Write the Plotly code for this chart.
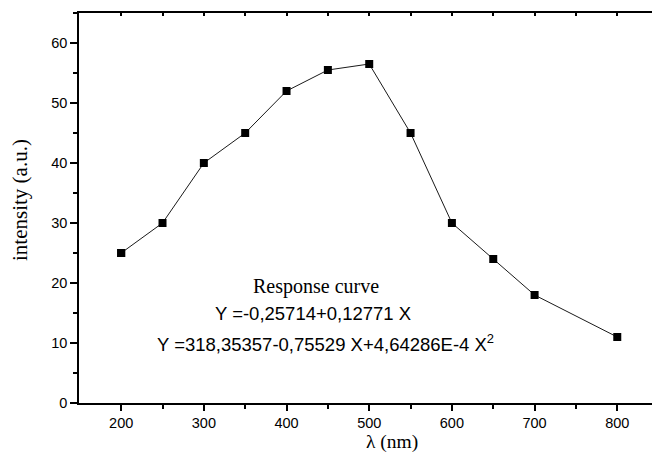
import plotly.graph_objects as go

wavelength = [200, 250, 300, 350, 400, 450, 500, 550, 600, 650, 700, 800]
intensity = [25, 30, 40, 45, 52, 55.5, 56.5, 45, 30, 24, 18, 11]

x_title = "λ (nm)"
y_title = "intensity (a.u.)"
note_lines = [
    "Response curve",
    "Y =-0,25714+0,12771 X",
    "Y =318,35357-0,75529 X+4,64286E-4 X<sup>2</sup>",
]

W, H = 652, 452
L, R, T, B = 79, 0, 13, 49
pw, ph = W - L - R, H - T - B

def px(x):
    return (x - L) / pw

def py(y):
    return (H - B - y) / ph

fig = go.Figure()
fig.add_trace(go.Scatter(
    x=wavelength, y=intensity, mode="lines+markers",
    line=dict(color="#1a1a1a", width=1),
    marker=dict(symbol="square", size=8, color="black"),
    showlegend=False,
))

axis_common = dict(
    showgrid=False, zeroline=False, showline=True, linecolor="black", linewidth=1.5,
    tickfont=dict(family="Liberation Sans, Arial", size=14.5, color="black"),
    tickcolor="black",
)

fig.update_layout(
    width=W, height=H,
    margin=dict(l=L, r=R, t=T, b=B),
    paper_bgcolor="white", plot_bgcolor="white",
    xaxis=dict(
        range=[149, 842], tickmode="array", tickvals=[200, 300, 400, 500, 600, 700, 800],
        ticks="outside", ticklen=6, tickwidth=1.5,
        minor=dict(tickvals=[250, 350, 450, 550, 650, 750], ticks="outside", ticklen=4,
                   tickwidth=1.5, tickcolor="black"),
        **axis_common,
    ),
    xaxis2=dict(
        matches="x", overlaying="x", side="top", showline=True, linecolor="black",
        linewidth=1.5, showgrid=False, zeroline=False, showticklabels=False,
        tickmode="array", tickvals=[200, 250, 300, 350, 400, 450, 500, 550, 600, 650, 700, 750, 800],
        ticks="inside", ticklen=3, tickwidth=1.5, tickcolor="black",
    ),
    yaxis=dict(
        range=[0, 65], tickmode="array", tickvals=[0, 10, 20, 30, 40, 50, 60],
        ticks="outside", ticklen=7, tickwidth=1.5,
        minor=dict(tickvals=[5, 15, 25, 35, 45, 55, 65], ticks="outside", ticklen=4,
                   tickwidth=1.5, tickcolor="black"),
        **axis_common,
    ),
)

fig.add_trace(go.Scatter(x=[wavelength[0]], y=[intensity[0]], xaxis="x2", mode="markers",
                         marker=dict(size=8, color="black", symbol="square"),
                         showlegend=False, hoverinfo="skip"))

serif = "Liberation Serif, Times New Roman, serif"
sans = "Liberation Sans, Arial, sans-serif"

fig.add_annotation(x=px(392), y=py(441.5), xref="paper", yref="paper", text=x_title,
                   showarrow=False, font=dict(family=serif, size=19.5, color="black"),
                   xanchor="center", yanchor="middle")
fig.add_annotation(x=px(20), y=py(200), xref="paper", yref="paper", text=y_title,
                   showarrow=False, textangle=-90, font=dict(family=serif, size=21, color="black"),
                   xanchor="center", yanchor="middle")
fig.add_annotation(x=px(315.5), y=py(286.7), xref="paper", yref="paper", text=note_lines[0],
                   showarrow=False, font=dict(family=serif, size=20, color="black"),
                   xanchor="center", yanchor="middle")
fig.add_annotation(x=px(312.5), y=py(313), xref="paper", yref="paper", text=note_lines[1],
                   showarrow=False, font=dict(family=sans, size=18.5, color="black"),
                   xanchor="center", yanchor="middle")
fig.add_annotation(x=px(325), y=py(343), xref="paper", yref="paper", text=note_lines[2],
                   showarrow=False, font=dict(family=sans, size=18.5, color="black"),
                   xanchor="center", yanchor="middle")

fig.write_html("out.html")
